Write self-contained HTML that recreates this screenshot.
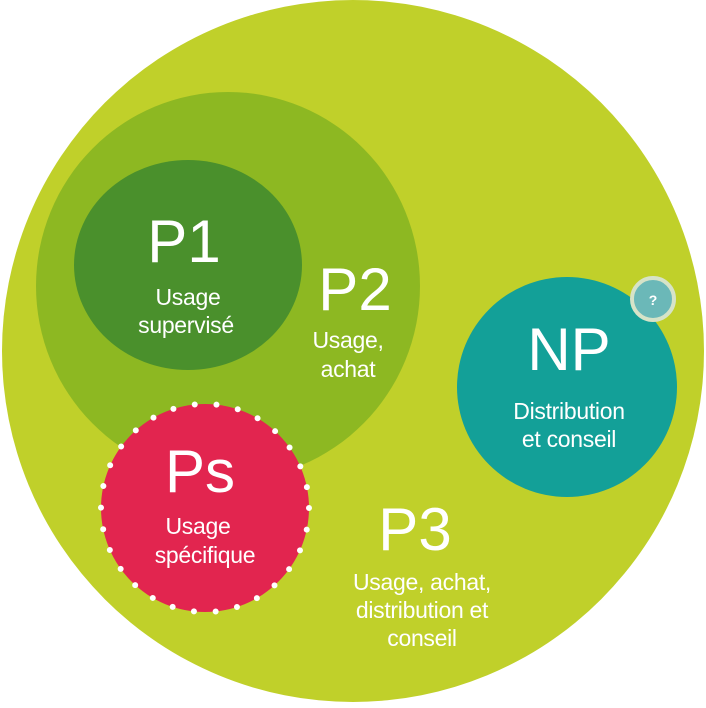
<!DOCTYPE html>
<html><head><style>
html,body{margin:0;padding:0;background:#fff;}
body{width:706px;height:703px;overflow:hidden;}
text{font-family:"Liberation Sans",sans-serif;fill:#fff;text-anchor:middle;}
.s{font-size:23px;letter-spacing:-0.3px;}
</style></head><body>
<svg width="706" height="703" viewBox="0 0 706 703">
<circle cx="353" cy="351" r="351" fill="#c0d02a"/>
<ellipse cx="228" cy="286" rx="192" ry="194" fill="#8db822"/>
<ellipse cx="188" cy="265" rx="114" ry="105" fill="#4a902c"/>
<circle cx="205" cy="508" r="104" fill="#e2254f"/>
<circle cx="205" cy="508" r="104" fill="none" stroke="#fff" stroke-width="6" stroke-linecap="round" stroke-dasharray="0 21.8"/>
<circle cx="567" cy="387" r="110" fill="#13a098"/>
<circle cx="653" cy="299" r="21" fill="#6bb8b8" stroke="#d6e3c8" stroke-width="4"/>
<text x="653" y="305" font-size="14" font-weight="bold">?</text>
<text x="184" y="262" font-size="60">P1</text>
<text x="188" y="305" class="s">Usage</text>
<text x="186" y="333" class="s">supervisé</text>
<text x="355" y="310" font-size="60">P2</text>
<text x="348" y="348" class="s">Usage,</text>
<text x="348" y="377" class="s">achat</text>
<text x="569" y="370" font-size="60">NP</text>
<text x="569" y="419" class="s">Distribution</text>
<text x="569" y="447" class="s">et conseil</text>
<text x="200" y="492" font-size="60">Ps</text>
<text x="198" y="534" class="s">Usage</text>
<text x="205" y="563" class="s">spécifique</text>
<text x="415" y="550" font-size="60">P3</text>
<text x="422" y="590" class="s">Usage, achat,</text>
<text x="422" y="618" class="s">distribution et</text>
<text x="422" y="646" class="s">conseil</text>
</svg>
</body></html>
